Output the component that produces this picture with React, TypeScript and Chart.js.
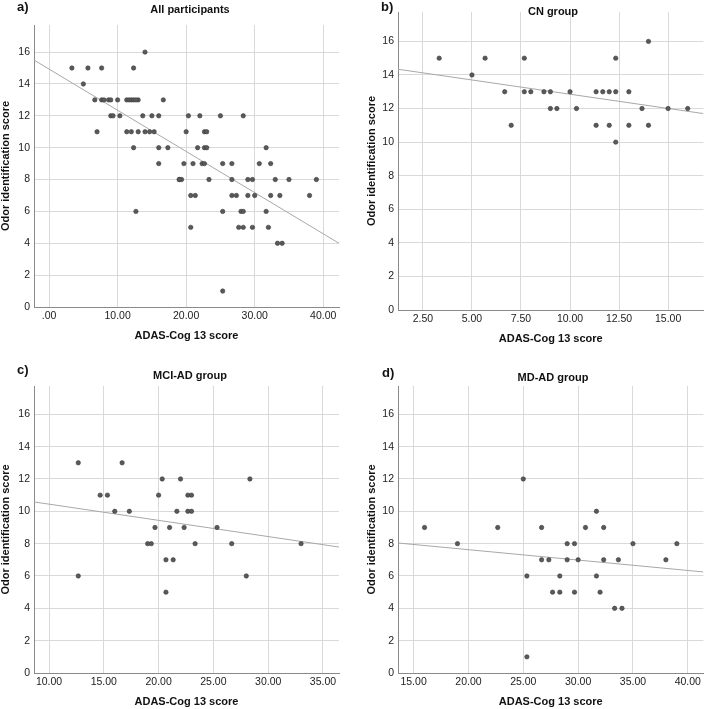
import { useEffect, useRef } from 'react';
import { Chart, registerables } from 'chart.js';

Chart.register(...registerables);

const FONT = "'Liberation Sans', Arial, sans-serif";

// CN group
const cnAdas = [3.33, 5, 5.67, 6.67, 7, 7.67, 7.67, 8, 8.67, 9, 9, 9.33, 10, 10.33, 11.33, 11.33, 11.67, 12, 12, 12.33, 12.33, 12.33, 13, 13, 13.67, 14, 14, 15, 16];
const cnOdor = [15, 14, 15, 13, 11, 15, 13, 13, 13, 13, 12, 12, 13, 12, 13, 11, 13, 13, 11, 15, 13, 10, 13, 11, 12, 16, 11, 12, 12];

// MCI-AD group
const mciAdas = [12.67, 12.67, 14.67, 15.33, 16, 16.67, 17.33, 19, 19.33, 19.67, 20, 20.33, 20.67, 20.67, 21, 21.33, 21.67, 22, 22.33, 22.67, 22.67, 23, 23, 23.33, 25.33, 26.67, 28, 28.33, 33];
const mciOdor = [13, 6, 11, 11, 10, 13, 10, 8, 8, 9, 11, 12, 7, 5, 9, 7, 10, 12, 9, 11, 10, 11, 10, 8, 9, 8, 6, 12, 8];

// MD-AD group
const mdAdas = [16, 19, 22.67, 25, 25.33, 25.33, 26.67, 26.67, 27.33, 27.67, 28.33, 28.33, 29, 29, 29.67, 29.67, 30, 30.67, 31.67, 31.67, 32, 32.33, 32.33, 33.33, 33.67, 34, 35, 38, 39];
const mdOdor = [9, 8, 9, 12, 6, 1, 9, 7, 7, 5, 6, 5, 8, 7, 8, 5, 7, 9, 10, 6, 5, 9, 7, 4, 7, 4, 8, 7, 8];

// all participants = the three groups together
const allAdas = [...cnAdas, ...mciAdas, ...mdAdas];
const allOdor = [...cnOdor, ...mciOdor, ...mdOdor];

// fit lines, read at the plot edges
const fitAllX = [-2.2, 42.3];
const fitAllY = [15.5, 4.0];
const fitCnX = [1.23, 16.8];
const fitCnY = [14.34, 11.7];
const fitMciX = [8.63, 36.46];
const fitMciY = [10.58, 7.79];
const fitMdX = [13.58, 41.42];
const fitMdY = [8.04, 6.25];

// ticks
const yTicks = [0, 2, 4, 6, 8, 10, 12, 14, 16];
const xTicksAll = [0, 10, 20, 30, 40];
const xTicksCn = [2.5, 5, 7.5, 10, 12.5, 15];
const xTicksMci = [10, 15, 20, 25, 30, 35];
const xTicksMd = [15, 20, 25, 30, 35, 40];

interface PanelProps {
  letter: string;
  title: string;
  xs: number[];
  ys: number[];
  fitX: number[];
  fitY: number[];
  xMin: number;
  xMax: number;
  yMax: number;
  xTicks: number[];
  box: { left: number; top: number; width: number; height: number };
  area: { left: number; top: number; right: number; bottom: number };
  letterAt: [number, number];
  titleAt: [number, number];
  yTitlePad: number;
  xTitlePad: number;
}

function Panel(p: PanelProps) {
  const canvasRef = useRef<HTMLCanvasElement>(null);
  const chartRef = useRef<Chart | null>(null);

  useEffect(() => {
    if (!canvasRef.current) return;
    if (chartRef.current) chartRef.current.destroy();

    const textPlugin = {
      id: 'panelText',
      afterDraw(chart: Chart) {
        const ctx = chart.ctx;
        ctx.save();
        ctx.fillStyle = '#111';
        ctx.textBaseline = 'middle';
        ctx.textAlign = 'left';
        ctx.font = `bold 13px ${FONT}`;
        ctx.fillText(p.letter, p.letterAt[0], p.letterAt[1]);
        ctx.textAlign = 'center';
        ctx.font = `bold 11px ${FONT}`;
        ctx.fillText(p.title, p.titleAt[0], p.titleAt[1]);
        ctx.restore();
      },
    };

    const yWidth = p.area.left;
    const xHeight = p.box.height - p.area.bottom;

    chartRef.current = new Chart(canvasRef.current, {
      type: 'scatter',
      data: {
        datasets: [
          {
            label: 'points',
            data: p.xs.map((x, i) => ({ x, y: p.ys[i] })),
            backgroundColor: '#595959',
            borderColor: '#3c3c3c',
            borderWidth: 0.6,
            pointRadius: 2.2,
          },
          {
            type: 'line',
            label: 'fit',
            data: p.fitX.map((x, i) => ({ x, y: p.fitY[i] })),
            borderColor: '#a8a8a8',
            borderWidth: 1,
            pointRadius: 0,
            fill: false,
          },
        ],
      },
      options: {
        responsive: true,
        maintainAspectRatio: false,
        animation: false,
        layout: {
          padding: { left: 0, top: p.area.top, right: p.box.width - p.area.right, bottom: 0 },
        },
        plugins: {
          legend: { display: false },
          tooltip: { enabled: false },
        },
        scales: {
          x: {
            type: 'linear',
            min: p.xMin,
            max: p.xMax,
            afterBuildTicks: (s: any) => {
              s.ticks = p.xTicks.map(v => ({ value: v }));
            },
            afterFit: (s: any) => {
              s.height = xHeight;
            },
            ticks: {
              padding: 3,
              color: '#222',
              font: { family: FONT, size: 10.5 },
              callback: (v: any) => (Number(v) === 0 ? '.00' : Number(v).toFixed(2)),
            },
            grid: { color: '#d9d9d9', lineWidth: 1, drawTicks: false },
            border: { display: true, color: '#8a8a8a', width: 1 },
            title: {
              display: true,
              text: 'ADAS-Cog 13 score',
              color: '#111',
              font: { family: FONT, size: 11, weight: 'bold', lineHeight: 1 },
              padding: { top: 0, bottom: p.xTitlePad },
            },
          },
          y: {
            type: 'linear',
            min: 0,
            max: p.yMax,
            afterBuildTicks: (s: any) => {
              s.ticks = yTicks.map(v => ({ value: v }));
            },
            afterFit: (s: any) => {
              s.width = yWidth;
            },
            ticks: {
              padding: 4,
              color: '#222',
              font: { family: FONT, size: 10.5 },
              callback: (v: any) => String(v),
            },
            grid: { color: '#d9d9d9', lineWidth: 1, drawTicks: false },
            border: { display: true, color: '#8a8a8a', width: 1 },
            title: {
              display: true,
              text: 'Odor identification score',
              color: '#111',
              font: { family: FONT, size: 11, weight: 'bold', lineHeight: 1 },
              padding: { top: p.yTitlePad, bottom: 0 },
            },
          },
        },
      },
      plugins: [textPlugin],
    } as any);

    return () => {
      if (chartRef.current) {
        chartRef.current.destroy();
        chartRef.current = null;
      }
    };
  }, [p]);

  return (
    <div
      style={{
        position: 'absolute',
        left: p.box.left,
        top: p.box.top,
        width: p.box.width,
        height: p.box.height,
      }}
    >
      <canvas ref={canvasRef} />
    </div>
  );
}

const panels: PanelProps[] = [
  {
    letter: 'a)',
    title: 'All participants',
    xs: allAdas,
    ys: allOdor,
    fitX: fitAllX,
    fitY: fitAllY,
    xMin: -2.2,
    xMax: 42.3,
    yMax: 17.7,
    xTicks: xTicksAll,
    box: { left: 0, top: 0, width: 354, height: 354 },
    area: { left: 34, top: 25, right: 339, bottom: 307 },
    letterAt: [17, 7],
    titleAt: [190, 10],
    yTitlePad: 0,
    xTitlePad: 12.5,
  },
  {
    letter: 'b)',
    title: 'CN group',
    xs: cnAdas,
    ys: cnOdor,
    fitX: fitCnX,
    fitY: fitCnY,
    xMin: 1.23,
    xMax: 16.8,
    yMax: 17.75,
    xTicks: xTicksCn,
    box: { left: 354, top: 0, width: 354, height: 354 },
    area: { left: 44, top: 12, right: 351, bottom: 310 },
    letterAt: [27, 7],
    titleAt: [199, 12],
    yTitlePad: 12.5,
    xTitlePad: 9.5,
  },
  {
    letter: 'c)',
    title: 'MCI-AD group',
    xs: mciAdas,
    ys: mciOdor,
    fitX: fitMciX,
    fitY: fitMciY,
    xMin: 8.63,
    xMax: 36.46,
    yMax: 17.75,
    xTicks: xTicksMci,
    box: { left: 0, top: 354, width: 354, height: 355 },
    area: { left: 34, top: 32, right: 339, bottom: 319 },
    letterAt: [17, 16],
    titleAt: [190, 22],
    yTitlePad: 0,
    xTitlePad: 1.2,
  },
  {
    letter: 'd)',
    title: 'MD-AD group',
    xs: mdAdas,
    ys: mdOdor,
    fitX: fitMdX,
    fitY: fitMdY,
    xMin: 13.58,
    xMax: 41.42,
    yMax: 17.75,
    xTicks: xTicksMd,
    box: { left: 354, top: 354, width: 354, height: 355 },
    area: { left: 44, top: 32, right: 351, bottom: 319 },
    letterAt: [28, 19],
    titleAt: [199, 24],
    yTitlePad: 12.5,
    xTitlePad: 1.2,
  },
];

export default function App() {
  return (
    <div
      style={{
        position: 'fixed',
        left: 0,
        top: 0,
        width: 708,
        height: 709,
        background: '#fff',
        overflow: 'hidden',
      }}
    >
      {panels.map(p => (
        <Panel key={p.letter} {...p} />
      ))}
    </div>
  );
}
